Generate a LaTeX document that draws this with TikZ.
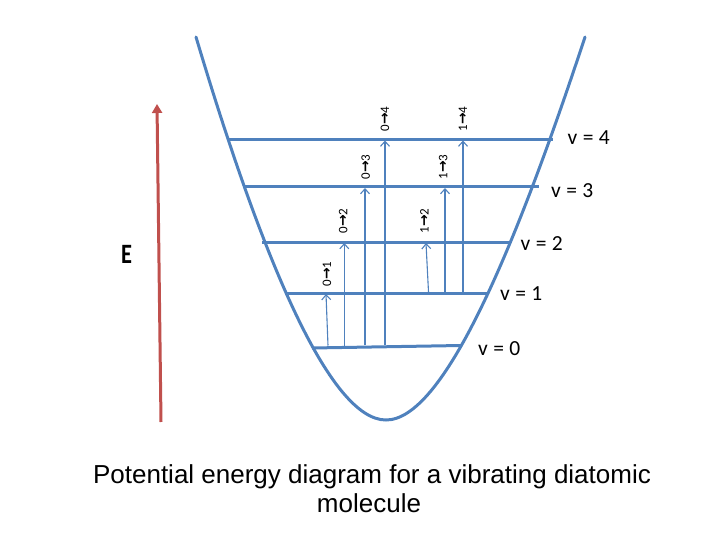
\documentclass[tikz,border=0pt]{standalone}
\usepackage{fontspec}
\setmainfont{Carlito}
\newfontfamily\capfont{Liberation Sans}
\newfontfamily\arrfont{DejaVu Sans}
\usetikzlibrary{arrows.meta}
\definecolor{ofblue}{HTML}{4F81BD}
\definecolor{ofred}{HTML}{C0504D}
\newcommand{\transtext}[2]{#1{\arrfont\bfseries\fontsize{14}{14}\selectfont →}#2}
\newcommand{\vtext}[1]{v\hspace{0.25em}=\hspace{0.25em}#1}
\tikzset{
  well/.style={draw=ofblue, line width=3pt, line cap=round},
  levelline/.style={draw=ofblue, line width=3pt},
  trans/.style={draw=ofblue, line width=1.1pt, -{Straight Barb[length=5pt,width=9pt,line width=1.1pt]}},
  tlabel/.style={rotate=90, inner sep=0pt, font=\fontsize{13}{14}\selectfont},
  vlabel/.style={anchor=base west, inner sep=0pt, font=\fontsize{21.5}{24}\selectfont},
  caption/.style={anchor=base, inner sep=0pt, font=\capfont\fontsize{26}{29}\selectfont},
}
\begin{document}
\begin{tikzpicture}[x=1pt,y=-1pt]
\useasboundingbox (0,0) rectangle (720,540);
% potential well
\draw[well] (196,37) .. controls (261,255) and (329,420) .. (386,420)
  .. controls (443,420) and (513,255) .. (585,37);
% level end points
\coordinate (l4a) at (229,140); \coordinate (l4b) at (553,140);
\coordinate (l3a) at (243,187); \coordinate (l3b) at (539,187);
\coordinate (l2a) at (262,242); \coordinate (l2b) at (511,242);
\coordinate (l1a) at (285,293); \coordinate (l1b) at (489,293);
\coordinate (l0a) at (312,348); \coordinate (l0b) at (461,345.5);
\draw[levelline] (l4a) -- (l4b);
\draw[levelline] (l3a) -- (l3b);
\draw[levelline] (l2a) -- (l2b);
\draw[levelline] (l1a) -- (l1b);
\draw[levelline] (l0a) -- (l0b);
% level labels
\node[vlabel] (v4) at (567.5,144.5) {\vtext{4}};
\node[vlabel] (v3) at (551,197) {\vtext{3}};
\node[vlabel] (v2) at (520.5,250.5) {\vtext{2}};
\node[vlabel] (v1) at (500,300) {\vtext{1}};
\node[vlabel] (v0) at (478,355) {\vtext{0}};
% transition arrows
\coordinate (a01s) at (328,345.5); \coordinate (a01e) at (326,294);
\coordinate (a02s) at (344.3,345.5); \coordinate (a02e) at (344.3,243);
\coordinate (a03s) at (365,345); \coordinate (a03e) at (365,188);
\coordinate (a04s) at (385,344.5); \coordinate (a04e) at (385,140.5);
\coordinate (a12s) at (428.5,292); \coordinate (a12e) at (426,243);
\coordinate (a13s) at (445,292); \coordinate (a13e) at (445,188);
\coordinate (a14s) at (463,292); \coordinate (a14e) at (463,140.5);
\draw[trans] (a01s) -- (a01e);
\draw[trans] (a02s) -- (a02e);
\draw[trans] (a03s) -- (a03e);
\draw[trans] (a04s) -- (a04e);
\draw[trans] (a12s) -- (a12e);
\draw[trans] (a13s) -- (a13e);
\draw[trans] (a14s) -- (a14e);
% transition labels
\node[tlabel] (t01) at (327,274) {\transtext{0}{1}};
\node[tlabel] (t02) at (343.3,221) {\transtext{0}{2}};
\node[tlabel] (t03) at (365.7,167) {\transtext{0}{3}};
\node[tlabel] (t04) at (385,119) {\transtext{0}{4}};
\node[tlabel] (t12) at (424.3,221) {\transtext{1}{2}};
\node[tlabel] (t13) at (443.3,167) {\transtext{1}{3}};
\node[tlabel] (t14) at (463,119) {\transtext{1}{4}};
% energy axis
\coordinate (ebot) at (161,422);
\coordinate (etop) at (157,104);
\draw[ofred, line width=3pt, -{Triangle[length=9pt,width=10pt]}] (ebot) -- (etop);
\node[inner sep=0pt, xscale=0.8, font=\bfseries\fontsize{28}{30}\selectfont] (E) at (126.7,254) {E};
% caption
\node[caption] (cap1) at (372,483) {Potential energy diagram for a vibrating diatomic};
\node[caption] (cap2) at (369,512) {molecule};
\end{tikzpicture}
\end{document}
